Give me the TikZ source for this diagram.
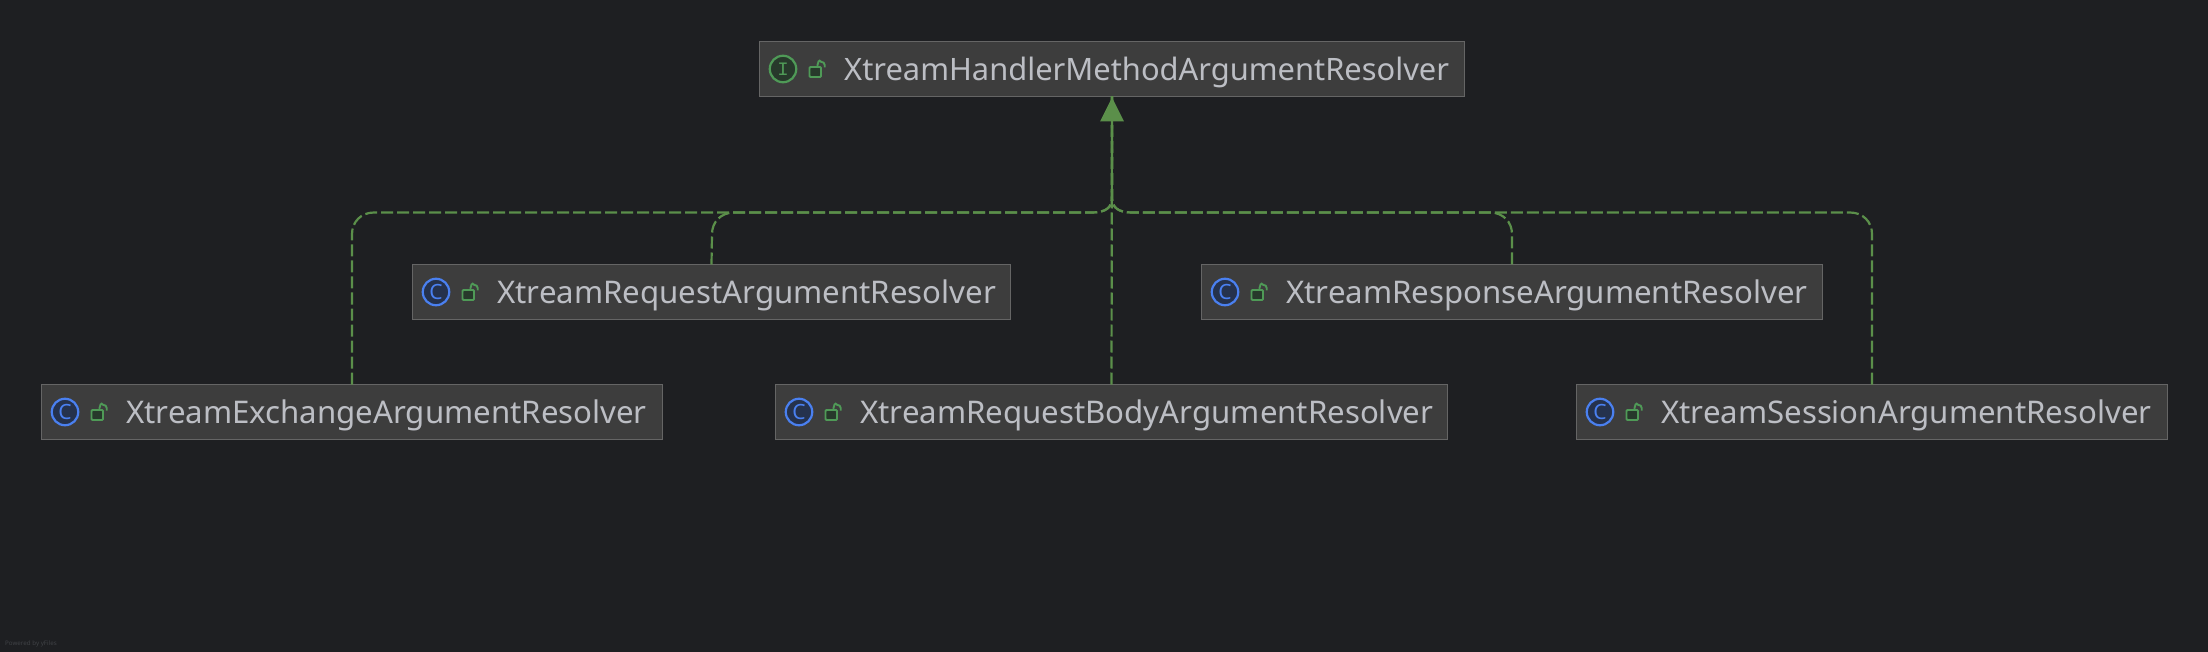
\documentclass[tikz,border=0pt]{standalone}
\usepackage{fontspec}
\setmainfont{Noto Sans}
\newfontfamily\slabfont{Liberation Mono}
\definecolor{bgc}{HTML}{1E1F22}
\definecolor{boxc}{HTML}{3D3D3D}
\definecolor{edgec}{HTML}{656565}
\definecolor{txtc}{HTML}{BCBEC4}
\definecolor{linkc}{HTML}{5B8F4A}
\definecolor{grn}{HTML}{4F9A57}
\definecolor{grnf}{HTML}{27392B}
\definecolor{blu}{HTML}{4A80F0}
\definecolor{bluf}{HTML}{25324D}
\definecolor{wmc}{HTML}{404246}
\tikzset{
 x=1pt,y=-1pt,
 classbox/.style={draw=edgec,line width=1.4pt,fill=boxc,anchor=north west,minimum height=55pt,inner sep=0pt,outer sep=0pt},
 cname/.style={text=txtc,font=\fontsize{31.2}{31.2}\selectfont,anchor=base west,inner sep=0pt},
 dep/.style={draw=linkc,line width=2.2pt,dash pattern=on 12pt off 4pt},
 sol/.style={draw=linkc,line width=2.2pt},
 iconring/.style={circle,line width=2.2pt,minimum size=26.5pt,inner sep=0pt},
 letterc/.style={font=\fontsize{21}{21}\selectfont,inner sep=0pt},
 letteri/.style={font=\slabfont\fontsize{19}{19}\selectfont,inner sep=0pt}
}
\newcommand{\lockicon}[2]{%
 \draw[grn,line width=1.9pt,fill=grnf,rounded corners=1pt] (#1,#2) rectangle ++(11.5,10);
 \draw[grn,line width=1.9pt] (#1+8,#2) -- ++(0,-2) .. controls ++(0,-2) and ++(-2,-3.2) .. ++(3.6,-3.2) .. controls ++(2,0) and ++(0,-2) .. ++(3.6,3.2) -- ++(0,2.5);
}
\newcommand{\klass}[7][]{% options, name, left, top, width, kind, text
 \node[classbox,minimum width=#5pt] (#2) at (#3,#4) {};
 \ifnum#6=0
  \node[iconring,draw=blu,fill=bluf] (#2c) at (#3+23.5,#4+27.5) {};
  \node[letterc,text=blu] (#2l) at (#2c) {C};
 \else
  \node[iconring,draw=grn,fill=grnf] (#2c) at (#3+23.5,#4+27.5) {};
  \node[letteri,text=grn] (#2l) at (#2c) {I};
 \fi
 \lockicon{#3+50}{#4+25.5}
 \node[cname,#1] (#2t) at (#3+84.5,#4+39) {#7};
}
\begin{document}
\begin{tikzpicture}
\useasboundingbox (0,0) rectangle (2208,652);
\fill[bgc] (0,0) rectangle (2208,652);
\klass[font=\fontsize{30.85}{30.85}\selectfont]{top}{759.5}{41.5}{705}{1}{XtreamHandlerMethodArgumentResolver}
\klass{req}{412.5}{264.5}{598}{0}{XtreamRequestArgumentResolver}
\klass{res}{1201.5}{264.5}{621}{0}{XtreamResponseArgumentResolver}
\klass{exc}{41.5}{384.5}{621}{0}{XtreamExchangeArgumentResolver}
\klass{bod}{775.5}{384.5}{672}{0}{XtreamRequestBodyArgumentResolver}
\klass{ses}{1576.5}{384.5}{591}{0}{XtreamSessionArgumentResolver}
\node[anchor=west,inner sep=0pt,text=wmc,font=\fontsize{6.2}{6.2}\selectfont] (wm) at (5,644) {Powered by yFiles};
\coordinate (topb) at (top.south);
\draw[dep] (bod.north) -- (topb);
\draw[dep] (exc.north) -- (352,234) .. controls (352,222) and (361,212.5) .. (374,212.5) -- (1092,212.5) .. controls (1105,212.5) and (1112,208) .. (1112,198) -- (topb);
\draw[dep] (req.north) -- (712,234) .. controls (712,222) and (721,212.5) .. (734,212.5) -- (1092,212.5) .. controls (1105,212.5) and (1112,208) .. (1112,198) -- (topb);
\draw[dep] (res.north) -- (1512,234) .. controls (1512,222) and (1503,212.5) .. (1490,212.5) -- (1132,212.5) .. controls (1119,212.5) and (1112,208) .. (1112,198) -- (topb);
\draw[dep] (ses.north) -- (1872,234) .. controls (1872,222) and (1863,212.5) .. (1850,212.5) -- (1132,212.5) .. controls (1119,212.5) and (1112,208) .. (1112,198) -- (topb);
\draw[sol] (1112,198) -- (topb);
\fill[linkc] ([yshift=-1pt]topb) -- ++(12,24) -- ++(-24,0) -- cycle;
\end{tikzpicture}
\end{document}
